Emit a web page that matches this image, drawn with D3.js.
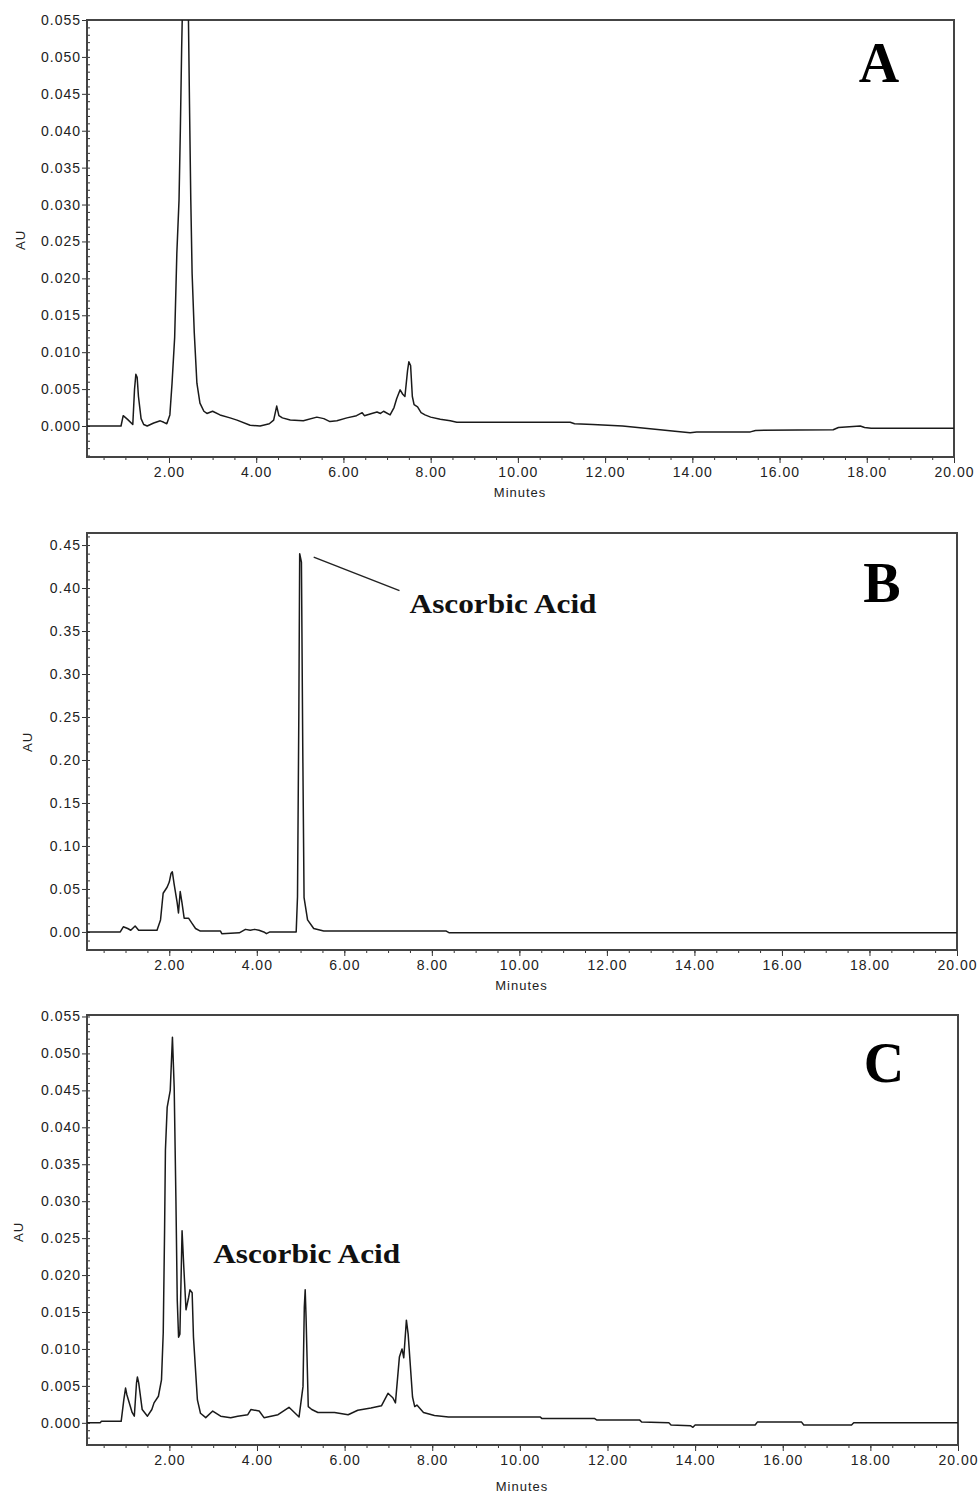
<!DOCTYPE html>
<meta charset="utf-8">
<style>
body { margin: 0; background: #fff; }
.tick text { font: 14px "Liberation Sans", Arial, sans-serif; fill: #222; letter-spacing: 1px; }
.tick line { stroke: #333; stroke-width: 1px; }
.axis path { display: none; }
.frame { fill: none; stroke: #444; stroke-width: 2px; }
.trace { fill: none; stroke: #1a1a1a; stroke-width: 1.5px; stroke-linejoin: round; }
.axlabel { font: 13px "Liberation Sans", Arial, sans-serif; fill: #222; letter-spacing: 1px; }
.letter { font: bold 56px "Liberation Serif", "Times New Roman", serif; fill: #000; }
.note { font: bold 28px "Liberation Serif", "Times New Roman", serif; fill: #111; }
</style>
<svg width="978" height="1495"></svg>
<script src="https://cdn.jsdelivr.net/npm/d3@7"></script>
<script>

// ---- data (minutes, AU) ----
var timeA = [0.12,0.90,0.95,1.05,1.17,1.21,1.24,1.27,1.30,1.36,1.42,1.50,1.65,1.80,1.88,1.95,2.02,2.07,2.13,2.18,2.23,2.26,2.29,2.31,2.37,2.44,2.47,2.50,2.53,2.58,2.64,2.71,2.80,2.87,3.00,3.17,3.40,3.56,3.86,4.09,4.30,4.40,4.47,4.52,4.60,4.78,5.08,5.39,5.55,5.69,5.85,6.08,6.30,6.43,6.48,6.65,6.77,6.85,6.92,7.07,7.16,7.22,7.30,7.36,7.41,7.47,7.50,7.54,7.58,7.62,7.70,7.78,7.87,8.00,8.22,8.45,8.60,11.20,11.30,11.72,12.40,13.26,13.60,13.95,14.10,15.33,15.45,17.23,17.35,17.85,17.95,18.10,20.00];
var auA = [0,0,0.0014,0.0009,0.0002,0.0050,0.0070,0.0066,0.0040,0.0010,0.0002,0.0000,0.0004,0.0007,0.0005,0.0003,0.0015,0.0058,0.0120,0.0234,0.0306,0.0400,0.0510,0.0570,0.0780,0.0580,0.0437,0.0306,0.0207,0.0126,0.0058,0.0031,0.0020,0.0017,0.0020,0.0015,0.0011,0.0008,0.0001,0.0000,0.0003,0.0008,0.0027,0.0014,0.0011,0.0008,0.0007,0.0012,0.0010,0.0006,0.0007,0.0011,0.0014,0.0018,0.0014,0.0017,0.0019,0.0017,0.0020,0.0015,0.0025,0.0037,0.0049,0.0043,0.0040,0.0075,0.0087,0.0082,0.0040,0.0029,0.0026,0.0018,0.0015,0.0012,0.0009,0.0007,0.0005,0.0005,0.0003,0.0002,0.0000,-0.0005,-0.0007,-0.0009,-0.0008,-0.0008,-0.0006,-0.0005,-0.0002,0.0000,-0.0002,-0.0003,-0.0003];

var timeB = [0.12,0.88,0.95,1.05,1.12,1.22,1.30,1.72,1.80,1.86,1.95,2.00,2.04,2.07,2.11,2.18,2.21,2.25,2.29,2.34,2.44,2.52,2.60,2.71,3.17,3.20,3.60,3.74,3.85,3.95,4.05,4.16,4.22,4.30,4.90,4.93,4.96,4.98,5.02,5.05,5.08,5.16,5.30,5.53,8.33,8.40,20.00];
var auB = [0,0,0.006,0.004,0.002,0.007,0.002,0.002,0.014,0.045,0.052,0.058,0.068,0.070,0.056,0.034,0.022,0.047,0.034,0.016,0.016,0.010,0.004,0.001,0.001,-0.002,-0.001,0.003,0.002,0.003,0.002,0.000,-0.002,0.000,0.000,0.041,0.250,0.440,0.430,0.215,0.040,0.014,0.004,0.001,0.001,-0.001,-0.001];

var timeC = [0.12,0.42,0.45,0.90,0.96,1.00,1.03,1.15,1.20,1.25,1.27,1.30,1.38,1.50,1.60,1.65,1.75,1.82,1.86,1.89,1.91,1.95,2.02,2.07,2.11,2.15,2.18,2.21,2.24,2.29,2.33,2.38,2.44,2.47,2.52,2.55,2.64,2.71,2.83,2.99,3.17,3.40,3.56,3.79,3.86,4.05,4.16,4.48,4.73,4.96,5.05,5.08,5.10,5.12,5.17,5.25,5.39,5.77,6.08,6.30,6.60,6.84,6.99,7.10,7.16,7.25,7.31,7.35,7.41,7.45,7.55,7.60,7.65,7.80,8.05,8.37,10.46,10.50,11.70,11.75,12.73,12.78,13.40,13.45,13.90,13.95,14.00,15.37,15.42,16.43,16.48,17.57,17.62,20.00];
var auC = [0,0,0.0002,0.0002,0.0031,0.0047,0.0038,0.0014,0.0009,0.0054,0.0062,0.0054,0.0018,0.0009,0.0018,0.0027,0.0036,0.0058,0.0122,0.0257,0.0369,0.0427,0.0450,0.0522,0.0454,0.0300,0.0166,0.0116,0.0120,0.0260,0.0210,0.0153,0.0170,0.0180,0.0176,0.0116,0.0031,0.0013,0.0007,0.0016,0.0009,0.0007,0.0009,0.0011,0.0018,0.0016,0.0007,0.0011,0.0021,0.0008,0.0049,0.0157,0.0180,0.0143,0.0022,0.0018,0.0014,0.0014,0.0011,0.0017,0.0020,0.0023,0.0040,0.0034,0.0027,0.0089,0.0100,0.0088,0.0139,0.0120,0.0035,0.0022,0.0024,0.0014,0.0010,0.0008,0.0008,0.0006,0.0006,0.0004,0.0004,0.0001,0.0000,-0.0003,-0.0004,-0.0006,-0.0003,-0.0003,0.0001,0.0001,-0.0003,-0.0003,0.0000,0.0000];

var xTicks = [2,4,6,8,10,12,14,16,18,20];
var yTicksAC = [0,0.005,0.010,0.015,0.020,0.025,0.030,0.035,0.040,0.045,0.050,0.055];
var yTicksB = [0,0.05,0.10,0.15,0.20,0.25,0.30,0.35,0.40,0.45];

var svg = d3.select("svg");

var panels = [
  {id: "A", t: timeA, v: auA, box: [87, 954, 20, 457], ydom: [-0.0042, 0.055], yt: yTicksAC, fmt: ".3f", minor: 0.001, au: [20, 240], mins: 497, letter: [879, 82]},
  {id: "B", t: timeB, v: auB, box: [87, 957, 533, 950], ydom: [-0.021, 0.464], yt: yTicksB, fmt: ".2f", minor: 0.01, au: [27, 742], mins: 990, letter: [882, 602]},
  {id: "C", t: timeC, v: auC, box: [87, 958, 1015, 1445], ydom: [-0.003, 0.0552], yt: yTicksAC, fmt: ".3f", minor: 0.001, au: [18, 1232], mins: 1491, letter: [884, 1082]}
];

panels.forEach(function(p) {
  var l = p.box[0], r = p.box[1], top = p.box[2], bot = p.box[3];
  var x = d3.scaleLinear().domain([0.12, 20]).range([l, r]);
  var y = d3.scaleLinear().domain(p.ydom).range([bot, top]);
  var g = svg.append("g");

  g.append("clipPath").attr("id", "clip" + p.id)
    .append("rect").attr("x", l).attr("y", top).attr("width", r - l).attr("height", bot - top);

  // minor ticks
  var yMinor = d3.range(Math.ceil(p.ydom[0] / p.minor) * p.minor, p.ydom[1], p.minor);
  g.append("g").attr("class", "axis")
      .attr("transform", "translate(" + l + ",0)")
      .call(d3.axisLeft(y).tickValues(yMinor).tickSize(-3).tickFormat(""));
  g.append("g").attr("class", "axis")
      .attr("transform", "translate(0," + bot + ")")
      .call(d3.axisBottom(x).tickValues(d3.range(0.5, 20, 0.5)).tickSize(3).tickFormat(""));

  // major ticks
  g.append("g").attr("class", "axis")
      .attr("transform", "translate(" + l + ",0)")
      .call(d3.axisLeft(y).tickValues(p.yt).tickSize(5).tickPadding(1).tickFormat(d3.format(p.fmt)));
  g.append("g").attr("class", "axis")
      .attr("transform", "translate(0," + bot + ")")
      .call(d3.axisBottom(x).tickValues(xTicks).tickSize(6).tickPadding(4).tickFormat(d3.format(".2f")));

  g.append("rect").attr("class", "frame")
    .attr("x", l).attr("y", top).attr("width", r - l).attr("height", bot - top);

  var pts = p.t.map(function(t, i) { return [t, p.v[i]]; });
  g.append("path").attr("class", "trace")
    .attr("clip-path", "url(#clip" + p.id + ")")
    .attr("d", d3.line().x(function(d) { return x(d[0]); }).y(function(d) { return y(d[1]); })(pts));

  g.append("text").attr("class", "axlabel")
    .attr("transform", "translate(" + p.au[0] + "," + p.au[1] + ") rotate(-90)")
    .attr("text-anchor", "middle").attr("dy", "0.35em").text("AU");
  g.append("text").attr("class", "axlabel")
    .attr("x", (x(10) + x(10.1))/2).attr("y", p.mins).attr("text-anchor", "middle").text("Minutes");
  g.append("text").attr("class", "letter")
    .attr("x", p.letter[0]).attr("y", p.letter[1]).attr("text-anchor", "middle").text(p.id);

  if (p.id == "B") {
    g.append("line").attr("x1", x(5.3)).attr("y1", y(0.436)).attr("x2", x(7.26)).attr("y2", y(0.397))
      .style("stroke", "#222").style("stroke-width", 1.5);
    g.append("text").attr("class", "note").attr("x", x(7.49)).attr("y", y(0.371))
      .attr("textLength", 187).attr("lengthAdjust", "spacingAndGlyphs").text("Ascorbic Acid");
  }
  if (p.id == "C") {
    g.append("text").attr("class", "note").attr("x", x(3.0)).attr("y", y(0.0216))
      .attr("textLength", 187).attr("lengthAdjust", "spacingAndGlyphs").text("Ascorbic Acid");
  }
});

</script>
